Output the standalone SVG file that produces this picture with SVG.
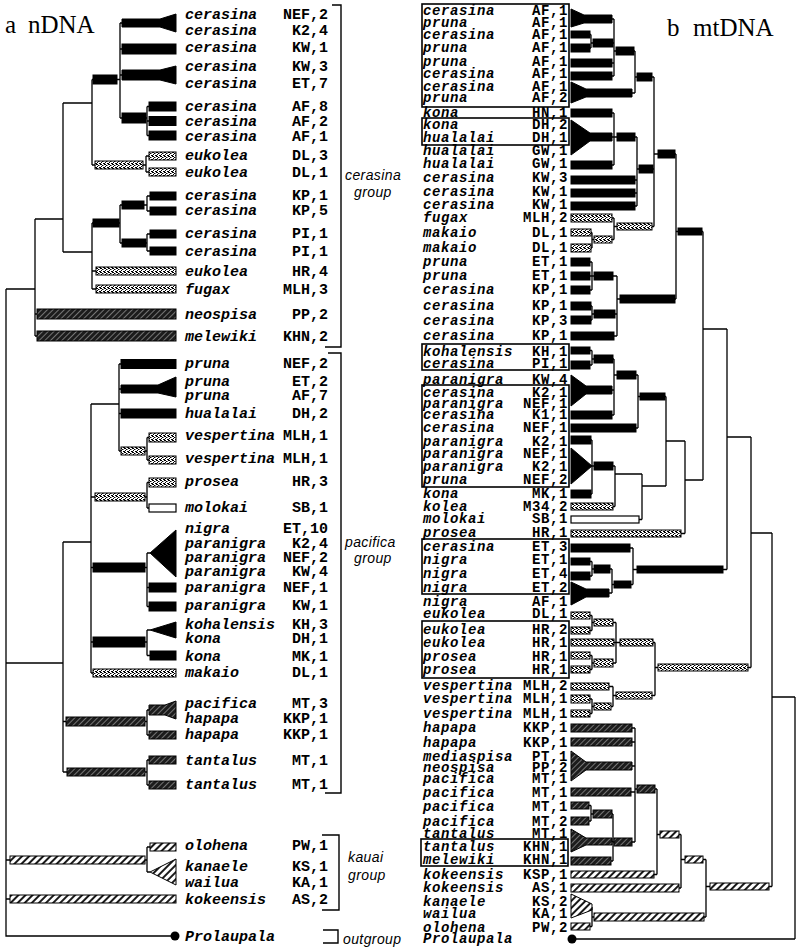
<svg xmlns="http://www.w3.org/2000/svg" width="800" height="949" viewBox="0 0 800 949">
<defs>
<pattern id="stip" width="4" height="4" patternUnits="userSpaceOnUse"><rect width="4" height="4" fill="#fff"/><path d="M0,0.5h2M2,1.5h1.5M1,2.5h1M3,3.5h1M0,3.5h1" stroke="#000" stroke-width="1"/></pattern>
<pattern id="dh" width="4" height="4" patternUnits="userSpaceOnUse" patternTransform="rotate(45)"><rect width="4" height="4" fill="#1c1c1c"/><line x1="0.5" y1="0" x2="0.5" y2="4" stroke="#8a8a8a" stroke-width="0.8"/></pattern>
<pattern id="wh" width="5" height="5" patternUnits="userSpaceOnUse" patternTransform="rotate(45)"><rect width="5" height="5" fill="#fff"/><line x1="1" y1="0" x2="1" y2="5" stroke="#000" stroke-width="1.8"/></pattern>
</defs>
<style>
.sp{font-family:"Liberation Mono","Courier New",monospace;font-weight:bold;font-style:italic;font-size:15px;fill:#000}
.cd{font-family:"Liberation Mono","Courier New",monospace;font-weight:bold;font-size:15px;text-anchor:end;fill:#000}
.b .sp,.b .cd{font-size:14px;letter-spacing:0.6px}
.gl{font-family:"Liberation Sans",Arial,sans-serif;font-style:italic;font-size:14px;fill:#000;letter-spacing:0.4px}
.tt{font-family:"Liberation Serif","Times New Roman",serif;font-size:25px;fill:#000}
.k{fill:#000;stroke:#000;stroke-width:1}
.s{fill:url(#stip);stroke:#000;stroke-width:1}
.d{fill:url(#dh);stroke:#000;stroke-width:1}
.w{fill:url(#wh);stroke:#000;stroke-width:1}
.o{fill:#fff;stroke:#000;stroke-width:1.2}
.ln{stroke:#000;stroke-width:1.3;fill:none}
.bx{fill:none;stroke:#000;stroke-width:1.6}
.br{fill:none;stroke:#000;stroke-width:1.4}
</style>
<rect width="800" height="949" fill="#fff"/>

<!-- titles -->
<text class="tt" x="5" y="33">a</text><text class="tt" x="28" y="33">nDNA</text>
<text class="tt" x="667" y="36">b</text><text class="tt" x="693" y="36">mtDNA</text>

<!-- connectors -->
<g id="connectors" class="ln">
<!-- left panel -->
<path d="M6,289V936H175M6,289H35M6,663H63M6,860H10M6,899H10"/>
<path d="M35,219V336M35,219H63M35,314H37M35,336H37"/>
<path d="M63,103V252M63,103H92M63,252H92"/>
<path d="M92,79.5V165M92,79.5H93M92,165H95"/>
<path d="M117,79.5H120M120,23V118M120,23H122M120,49H122M120,75H122M120,118H122"/>
<path d="M146,118H147M147,106.5V135.5M147,106.5H149M147,121H149M147,135.5H149"/>
<path d="M143,165H146M146,156V172M146,156H149M146,172H149"/>
<path d="M92,223V289M92,223H93M92,271H96M92,289H96"/>
<path d="M119,223H120M120,205V243M120,205H122M120,243H122"/>
<path d="M144,205H147M147,196V211M147,196H150M147,211H150"/>
<path d="M146,243H147M147,234V251M147,234H150M147,251H150"/>
<path d="M63,542V772M63,542H91M63,721.5H66M63,772H67"/>
<path d="M91,404V673M91,404H119M91,497H95M91,567.5H93M91,642H93M91,673H93"/>
<path d="M119,364V451M119,364H121M119,389H121M119,413.5H121M119,451H121"/>
<path d="M145,451H147M147,437.5V460M147,437.5H149M147,460H149"/>
<path d="M145,497H147M147,482.5V508M147,482.5H149M147,508H149"/>
<path d="M145,567.5H147M147,553V606.5M147,587.5H149M147,606.5H149M147,553H150"/>
<path d="M145,642H147M147,630V655.5M147,655.5H150M147,630H150"/>
<path d="M145,721.5H147M147,710V735M147,710H149M147,735H149"/>
<path d="M145,772H147M147,760V785M147,760H149M147,785H149"/>
<path d="M145,860H147M147,847V872M147,847H150M147,872H150"/>
<!-- right panel -->
<path d="M591,34.5V48M571,34.5H591M571,48H591M591,43H614"/>
<path d="M614,19V76M571,19H614M571,63H614M571,76H614M614,51H635"/>
<path d="M635,51V93M571,93H635M635,77H654"/>
<path d="M614,113V165M571,113H614M571,137H614M571,165H614M614,137H637"/>
<path d="M637,137V206M571,180H637M571,193H637M571,206H637M637,169H654"/>
<path d="M592,232.5V248M571,232.5H592M571,248H592M592,239.5H614"/>
<path d="M614,218V239.5M571,218H614M614,226.5H654"/>
<path d="M654,77V226.5M654,154H676"/>
<path d="M592,262V290M571,262H592M571,276H592M571,290H592M592,276H617"/>
<path d="M592,306V320M571,306H592M571,320H592M592,314H617"/>
<path d="M617,276V336M571,336H617M617,299H676"/>
<path d="M676,154V299M676,231.5H703"/>
<path d="M592,350.5V365M571,350.5H592M571,365H592M592,359H614"/>
<path d="M614,359V415M571,390H614M571,415H614M614,375H638"/>
<path d="M638,375V428M571,428H638M638,396.5H666"/>
<path d="M592,440V494M571,440H592M571,494H592M592,466H615"/>
<path d="M615,466V506.5M571,506.5H615M615,474H642"/>
<path d="M642,474V519.5M571,519.5H642M642,486H666"/>
<path d="M666,396.5V486M666,441H685"/>
<path d="M685,441V533.5M571,533.5H685M685,480H703"/>
<path d="M703,231.5V480M703,329H727"/>
<path d="M592,561.5V576M571,561.5H592M571,576H592M592,569H612"/>
<path d="M612,569V593M571,593H612M612,584.5H633"/>
<path d="M633,548V584.5M571,548H633M633,569.5H727"/>
<path d="M727,329V569.5M727,437H751"/>
<path d="M592,615.5V630.5M571,615.5H592M571,630.5H592M592,622.5H616"/>
<path d="M592,655.5V669.5M571,655.5H592M571,669.5H592M592,663H616"/>
<path d="M616,622.5V663M571,642.5H616M616,642.5H655"/>
<path d="M592,699V713.5M571,699H592M571,713.5H592M592,706.5H613"/>
<path d="M613,686.5V706.5M571,686.5H613M613,695.5H655"/>
<path d="M655,642.5V695.5M655,667.5H751"/>
<path d="M751,437V667.5M751,533H772"/>
<path d="M591,805.5V821M571,805.5H591M571,821H591M591,814H613"/>
<path d="M613,814V861M571,841.5H613M571,861H613M613,842H635"/>
<path d="M635,728V842M571,728H635M571,742H635M571,766H635M571,792H635M635,789H657"/>
<path d="M657,789V874.5M571,874.5H657M657,834.5H681"/>
<path d="M681,834.5V888M571,888H681M681,859.5H706"/>
<path d="M592,907V926.5M571,926.5H592M592,917H706"/>
<path d="M706,859.5V917M706,886.5H772"/>
<path d="M772,533V886.5M772,697H795"/>
<path d="M795,697V939M572,939H795"/>
</g>

<!-- LEFT PANEL: nDNA -->
<g id="a-cer-nef2-k24"><polygon class="k" points="122,19 160,19 176,14 176,32 160,27 122,27"/><text class="sp" x="185" y="19">cerasina</text><text class="cd" x="328" y="19">NEF,2</text><text class="sp" x="185" y="35">cerasina</text><text class="cd" x="328" y="35">K2,4</text></g>
<g id="a-cer-kw1"><rect class="k" x="122" y="44" width="54" height="10"/><text class="sp" x="185" y="52">cerasina</text><text class="cd" x="328" y="52">KW,1</text></g>
<g id="a-cer-kw3-et7"><polygon class="k" points="122,70 160,70 176,66 176,84 160,80 122,80"/><text class="sp" x="185" y="71">cerasina</text><text class="cd" x="328" y="71">KW,3</text><text class="sp" x="185" y="88">cerasina</text><text class="cd" x="328" y="88">ET,7</text></g>
<g id="a-cer-af8"><rect class="k" x="149" y="102" width="27" height="9"/><text class="sp" x="185" y="111">cerasina</text><text class="cd" x="328" y="111">AF,8</text></g>
<g id="a-cer-af2"><rect class="k" x="149" y="116.5" width="27" height="9"/><text class="sp" x="185" y="126">cerasina</text><text class="cd" x="328" y="126">AF,2</text></g>
<g id="a-cer-af1"><rect class="k" x="149" y="131" width="27" height="9"/><text class="sp" x="185" y="141">cerasina</text><text class="cd" x="328" y="141">AF,1</text></g>
<g id="a-euk-dl3"><rect class="s" x="149" y="152" width="27" height="8"/><text class="sp" x="185" y="160">eukolea</text><text class="cd" x="328" y="160">DL,3</text></g>
<g id="a-euk-dl1"><rect class="s" x="149" y="168" width="27" height="8"/><text class="sp" x="185" y="177">eukolea</text><text class="cd" x="328" y="177">DL,1</text></g>
<g id="a-cer-kp1"><rect class="k" x="150" y="192" width="26" height="8"/><text class="sp" x="185" y="200">cerasina</text><text class="cd" x="328" y="200">KP,1</text></g>
<g id="a-cer-kp5"><rect class="k" x="150" y="207" width="26" height="8"/><text class="sp" x="185" y="215">cerasina</text><text class="cd" x="328" y="215">KP,5</text></g>
<g id="a-cer-pi1a"><rect class="k" x="150" y="230" width="26" height="8"/><text class="sp" x="185" y="238">cerasina</text><text class="cd" x="328" y="238">PI,1</text></g>
<g id="a-cer-pi1b"><rect class="k" x="150" y="247" width="26" height="8"/><text class="sp" x="185" y="256">cerasina</text><text class="cd" x="328" y="256">PI,1</text></g>
<g id="a-euk-hr4"><rect class="s" x="96" y="267" width="80" height="8"/><text class="sp" x="185" y="276">eukolea</text><text class="cd" x="328" y="276">HR,4</text></g>
<g id="a-fug-mlh3"><rect class="s" x="96" y="285" width="80" height="8"/><text class="sp" x="185" y="294">fugax</text><text class="cd" x="328" y="294">MLH,3</text></g>
<g id="a-neo-pp2"><rect class="d" x="37" y="309" width="139" height="10"/><text class="sp" x="185" y="319">neospisa</text><text class="cd" x="328" y="319">PP,2</text></g>
<g id="a-mel-khn2"><rect class="d" x="37" y="331" width="139" height="10"/><text class="sp" x="185" y="341">melewiki</text><text class="cd" x="328" y="341">KHN,2</text></g>
<g id="a-pru-nef2"><rect class="k" x="121" y="359.5" width="55" height="9"/><text class="sp" x="185" y="368">pruna</text><text class="cd" x="328" y="368">NEF,2</text></g>
<g id="a-pru-et2-af7"><polygon class="k" points="121,385 158,385 176,377 176,397 158,393 121,393"/><text class="sp" x="185" y="386">pruna</text><text class="cd" x="328" y="386">ET,2</text><text class="sp" x="185" y="400">pruna</text><text class="cd" x="328" y="400">AF,7</text></g>
<g id="a-hua-dh2"><rect class="k" x="121" y="409" width="55" height="9"/><text class="sp" x="185" y="418">hualalai</text><text class="cd" x="328" y="418">DH,2</text></g>
<g id="a-ves-1"><rect class="s" x="149" y="433" width="27" height="9"/><text class="sp" x="185" y="440">vespertina</text><text class="cd" x="328" y="440">MLH,1</text></g>
<g id="a-ves-2"><rect class="s" x="149" y="456" width="27" height="8"/><text class="sp" x="185" y="463">vespertina</text><text class="cd" x="328" y="463">MLH,1</text></g>
<g id="a-pro-hr3"><rect class="s" x="149" y="478" width="27" height="9"/><text class="sp" x="185" y="486">prosea</text><text class="cd" x="328" y="486">HR,3</text></g>
<g id="a-mol-sb1"><rect class="o" x="149" y="504" width="27" height="8"/><text class="sp" x="185" y="512">molokai</text><text class="cd" x="328" y="512">SB,1</text></g>
<g id="a-nig-par"><polygon class="k" points="150,553 176,530 176,577"/><text class="sp" x="185" y="533">nigra</text><text class="cd" x="328" y="533">ET,10</text><text class="sp" x="185" y="548">paranigra</text><text class="cd" x="328" y="548">K2,4</text><text class="sp" x="185" y="562">paranigra</text><text class="cd" x="328" y="562">NEF,2</text><text class="sp" x="185" y="576">paranigra</text><text class="cd" x="328" y="576">KW,4</text></g>
<g id="a-par-nef1"><rect class="k" x="149" y="583" width="27" height="9"/><text class="sp" x="185" y="592">paranigra</text><text class="cd" x="328" y="592">NEF,1</text></g>
<g id="a-par-kw1"><rect class="k" x="149" y="602" width="27" height="9"/><text class="sp" x="185" y="610">paranigra</text><text class="cd" x="328" y="610">KW,1</text></g>
<g id="a-koh-kona"><polygon class="k" points="150,630 176,622 176,638"/><text class="sp" x="185" y="629">kohalensis</text><text class="cd" x="328" y="629">KH,3</text><text class="sp" x="185" y="643">kona</text><text class="cd" x="328" y="643">DH,1</text></g>
<g id="a-kona-mk1"><rect class="k" x="150" y="651" width="26" height="9"/><text class="sp" x="185" y="661">kona</text><text class="cd" x="328" y="661">MK,1</text></g>
<g id="a-mak-dl1"><rect class="s" x="93" y="669" width="83" height="8"/><text class="sp" x="185" y="677">makaio</text><text class="cd" x="328" y="677">DL,1</text></g>
<g id="a-pac-hap"><polygon class="d" points="149,705 165,705 176,701 176,719 165,715 149,715"/><text class="sp" x="185" y="708">pacifica</text><text class="cd" x="328" y="708">MT,3</text><text class="sp" x="185" y="723">hapapa</text><text class="cd" x="328" y="723">KKP,1</text></g>
<g id="a-hap-kkp1"><rect class="d" x="149" y="731" width="27" height="8"/><text class="sp" x="185" y="739">hapapa</text><text class="cd" x="328" y="739">KKP,1</text></g>
<g id="a-tan-1"><rect class="d" x="149" y="756" width="27" height="8"/><text class="sp" x="185" y="765">tantalus</text><text class="cd" x="328" y="765">MT,1</text></g>
<g id="a-tan-2"><rect class="d" x="149" y="781" width="27" height="8"/><text class="sp" x="185" y="789">tantalus</text><text class="cd" x="328" y="789">MT,1</text></g>
<g id="a-olo-pw1"><rect class="w" x="150" y="843" width="26" height="8"/><text class="sp" x="185" y="850">olohena</text><text class="cd" x="328" y="850">PW,1</text></g>
<g id="a-kan-wai"><polygon class="w" points="150,872 176,859 176,885"/><text class="sp" x="185" y="871">kanaele</text><text class="cd" x="328" y="871">KS,1</text><text class="sp" x="185" y="887">wailua</text><text class="cd" x="328" y="887">KA,1</text></g>
<g id="a-kok-as2"><rect class="w" x="10" y="895" width="166" height="8"/><text class="sp" x="185" y="904">kokeensis</text><text class="cd" x="328" y="904">AS,2</text></g>
<g id="a-prolaupala"><circle cx="175" cy="936" r="4.5" fill="#000"/><text class="sp" x="185" y="941">Prolaupala</text></g>
<!-- left internal nodes -->
<g id="a-node-A"><rect class="k" x="93" y="75" width="24" height="9"/></g>
<g id="a-node-AF"><rect class="k" x="122" y="113" width="24" height="10"/></g>
<g id="a-node-euk"><rect class="s" x="95" y="161" width="48" height="8"/></g>
<g id="a-node-KP"><rect class="k" x="122" y="201" width="22" height="8"/></g>
<g id="a-node-PI"><rect class="k" x="122" y="239" width="24" height="8"/></g>
<g id="a-node-KPPI"><rect class="k" x="93" y="219" width="26" height="8"/></g>
<g id="a-node-ves"><rect class="s" x="121" y="447" width="24" height="8"/></g>
<g id="a-node-pro"><rect class="s" x="95" y="493" width="50" height="8"/></g>
<g id="a-node-nig"><rect class="k" x="93" y="563" width="52" height="9"/></g>
<g id="a-node-koh"><rect class="k" x="93" y="637" width="52" height="10"/></g>
<g id="a-node-hap"><rect class="d" x="66" y="717" width="79" height="9"/></g>
<g id="a-node-tan"><rect class="d" x="67" y="768" width="78" height="8"/></g>
<g id="a-node-kau"><rect class="w" x="10" y="856" width="135" height="8"/></g>
<!-- brackets and group labels -->
<g id="a-grp-cerasina"><polyline class="br" points="332,5 341,5 341,347 325,347"/><text class="gl" x="345" y="180">cerasina</text><text class="gl" x="354" y="197">group</text></g>
<g id="a-grp-pacifica"><polyline class="br" points="328,353 341,353 341,793 325,793"/><text class="gl" x="345" y="547">pacifica</text><text class="gl" x="354" y="563">group</text></g>
<g id="a-grp-kauai"><polyline class="br" points="322,835 339,835 339,910 322,910"/><text class="gl" x="348" y="862">kauai</text><text class="gl" x="348" y="880">group</text></g>
<g id="a-grp-outgroup"><polyline class="br" points="323,930 338,930 338,943 323,943"/><text class="gl" x="343" y="944">outgroup</text></g>

<!-- RIGHT PANEL: mtDNA -->
<g class="b">
<g id="b-boxes">
<rect class="bx" x="422" y="4" width="147" height="103"/>
<rect class="bx" x="422" y="118" width="147" height="27"/>
<rect class="bx" x="422" y="344" width="147" height="26"/>
<rect class="bx" x="422" y="385" width="147" height="102"/>
<rect class="bx" x="422" y="539" width="147" height="55"/>
<rect class="bx" x="422" y="621" width="147" height="57"/>
<rect class="bx" x="421" y="839" width="147" height="27"/>
</g>
<g id="b-r01-02"><polygon class="k" points="571,9 584,15 612,15 612,23 584,23 571,27"/><text class="sp" x="423" y="14.5">cerasina</text><text class="cd" x="568" y="14.5">AF,1</text><text class="sp" x="423" y="26.5">pruna</text><text class="cd" x="568" y="26.5">AF,1</text></g>
<g id="b-r03"><rect class="k" x="571" y="31" width="19" height="7"/><text class="sp" x="423" y="38.5">cerasina</text><text class="cd" x="568" y="38.5">AF,1</text></g>
<g id="b-r04"><rect class="k" x="571" y="44" width="19" height="8"/><text class="sp" x="423" y="51.5">pruna</text><text class="cd" x="568" y="51.5">AF,1</text></g>
<g id="b-r05"><rect class="k" x="571" y="59" width="41" height="8"/><text class="sp" x="423" y="65.5">pruna</text><text class="cd" x="568" y="65.5">AF,1</text></g>
<g id="b-r06"><rect class="k" x="571" y="72" width="41" height="8"/><text class="sp" x="423" y="77.5">cerasina</text><text class="cd" x="568" y="77.5">AF,1</text></g>
<g id="b-r07-08"><polygon class="k" points="571,82 586,89 632,89 632,97 586,97 571,103"/><text class="sp" x="423" y="90.5">cerasina</text><text class="cd" x="568" y="90.5">AF,1</text><text class="sp" x="423" y="101.5">pruna</text><text class="cd" x="568" y="101.5">AF,2</text></g>
<g id="b-r09"><rect class="k" x="571" y="109" width="41" height="8"/><text class="sp" x="423" y="116.5">kona</text><text class="cd" x="568" y="116.5">HN,1</text></g>
<g id="b-r10-12"><polygon class="k" points="571,120 590,133 612,133 612,141 590,141 571,155"/><text class="sp" x="423" y="128.5">kona</text><text class="cd" x="568" y="128.5">DH,2</text><text class="sp" x="423" y="141.5">hualalai</text><text class="cd" x="568" y="141.5">DH,1</text><text class="sp" x="423" y="154.5">hualalai</text><text class="cd" x="568" y="154.5">GW,1</text></g>
<g id="b-r13"><rect class="k" x="571" y="161" width="41" height="8"/><text class="sp" x="423" y="167.5">hualalai</text><text class="cd" x="568" y="167.5">GW,1</text></g>
<g id="b-r14"><rect class="k" x="571" y="176" width="64" height="8"/><text class="sp" x="423" y="181.5">cerasina</text><text class="cd" x="568" y="181.5">KW,3</text></g>
<g id="b-r15"><rect class="k" x="571" y="189" width="64" height="8"/><text class="sp" x="423" y="195.5">cerasina</text><text class="cd" x="568" y="195.5">KW,1</text></g>
<g id="b-r16"><rect class="k" x="571" y="202" width="64" height="8"/><text class="sp" x="423" y="208.5">cerasina</text><text class="cd" x="568" y="208.5">KW,1</text></g>
<g id="b-r17"><rect class="s" x="571" y="214" width="41" height="8"/><text class="sp" x="423" y="221.5">fugax</text><text class="cd" x="568" y="221.5">MLH,2</text></g>
<g id="b-r18"><rect class="s" x="571" y="229" width="20" height="7"/><text class="sp" x="423" y="236.5">makaio</text><text class="cd" x="568" y="236.5">DL,1</text></g>
<g id="b-r19"><rect class="s" x="571" y="244" width="20" height="8"/><text class="sp" x="423" y="251.5">makaio</text><text class="cd" x="568" y="251.5">DL,1</text></g>
<g id="b-r20"><rect class="k" x="571" y="258" width="19" height="8"/><text class="sp" x="423" y="265.5">pruna</text><text class="cd" x="568" y="265.5">ET,1</text></g>
<g id="b-r21"><rect class="k" x="571" y="272" width="19" height="8"/><text class="sp" x="423" y="279.5">pruna</text><text class="cd" x="568" y="279.5">ET,1</text></g>
<g id="b-r22"><rect class="k" x="571" y="286" width="19" height="8"/><text class="sp" x="423" y="293.5">cerasina</text><text class="cd" x="568" y="293.5">KP,1</text></g>
<g id="b-r23"><rect class="k" x="571" y="302" width="20" height="8"/><text class="sp" x="423" y="309.5">cerasina</text><text class="cd" x="568" y="309.5">KP,1</text></g>
<g id="b-r24"><rect class="k" x="571" y="316" width="20" height="8"/><text class="sp" x="423" y="324.5">cerasina</text><text class="cd" x="568" y="324.5">KP,3</text></g>
<g id="b-r25"><rect class="k" x="571" y="332" width="43" height="8"/><text class="sp" x="423" y="339.5">cerasina</text><text class="cd" x="568" y="339.5">KP,1</text></g>
<g id="b-r26"><rect class="k" x="571" y="347" width="19" height="7"/><text class="sp" x="423" y="355.5">kohalensis</text><text class="cd" x="568" y="355.5">KH,1</text></g>
<g id="b-r27"><rect class="k" x="571" y="361" width="19" height="8"/><text class="sp" x="423" y="367.5">cerasina</text><text class="cd" x="568" y="367.5">PI,1</text></g>
<g id="b-r28-30"><polygon class="k" points="571,375 586,386 612,386 612,394 586,394 571,406"/><text class="sp" x="423" y="383.5">paranigra</text><text class="cd" x="568" y="383.5">KW,4</text><text class="sp" x="423" y="396.5">cerasina</text><text class="cd" x="568" y="396.5">K2,1</text><text class="sp" x="423" y="407.5">paranigra</text><text class="cd" x="568" y="407.5">NEF,1</text></g>
<g id="b-r31"><rect class="k" x="571" y="411" width="41" height="8"/><text class="sp" x="423" y="418.5">cerasina</text><text class="cd" x="568" y="418.5">K1,1</text></g>
<g id="b-r32"><rect class="k" x="571" y="424" width="65" height="8"/><text class="sp" x="423" y="431.5">cerasina</text><text class="cd" x="568" y="431.5">NEF,1</text></g>
<g id="b-r33"><rect class="k" x="571" y="436" width="20" height="8"/><text class="sp" x="423" y="445.5">paranigra</text><text class="cd" x="568" y="445.5">K2,1</text></g>
<g id="b-r34-36"><polygon class="k" points="571,448 592,466 571,484"/><text class="sp" x="423" y="457.5">paranigra</text><text class="cd" x="568" y="457.5">NEF,1</text><text class="sp" x="423" y="470.5">paranigra</text><text class="cd" x="568" y="470.5">K2,1</text><text class="sp" x="423" y="483.5">pruna</text><text class="cd" x="568" y="483.5">NEF,2</text></g>
<g id="b-r37"><rect class="k" x="571" y="490" width="20" height="8"/><text class="sp" x="423" y="497.5">kona</text><text class="cd" x="568" y="497.5">MK,1</text></g>
<g id="b-r38"><rect class="s" x="571" y="503" width="42" height="7"/><text class="sp" x="423" y="510.5">kolea</text><text class="cd" x="568" y="510.5">M34,2</text></g>
<g id="b-r39"><rect class="o" x="571" y="516" width="68" height="7"/><text class="sp" x="423" y="522.5">molokai</text><text class="cd" x="568" y="522.5">SB,1</text></g>
<g id="b-r40"><rect class="s" x="571" y="530" width="110" height="7"/><text class="sp" x="423" y="536.5">prosea</text><text class="cd" x="568" y="536.5">HR,1</text></g>
<g id="b-r41"><rect class="k" x="571" y="544" width="59" height="8"/><text class="sp" x="423" y="550.5">cerasina</text><text class="cd" x="568" y="550.5">ET,3</text></g>
<g id="b-r42"><rect class="k" x="571" y="558" width="19" height="7"/><text class="sp" x="423" y="563.5">nigra</text><text class="cd" x="568" y="563.5">ET,1</text></g>
<g id="b-r43"><rect class="k" x="571" y="572" width="19" height="8"/><text class="sp" x="423" y="577.5">nigra</text><text class="cd" x="568" y="577.5">ET,4</text></g>
<g id="b-r44-45"><polygon class="k" points="571,582 586,589 609,589 609,597 586,597 571,605"/><text class="sp" x="423" y="591.5">nigra</text><text class="cd" x="568" y="591.5">ET,2</text><text class="sp" x="423" y="605.5">nigra</text><text class="cd" x="568" y="605.5">AF,1</text></g>
<g id="b-r46"><rect class="s" x="571" y="612" width="19" height="7"/><text class="sp" x="423" y="617.5">eukolea</text><text class="cd" x="568" y="617.5">DL,1</text></g>
<g id="b-r47"><rect class="s" x="571" y="627" width="19" height="7"/><text class="sp" x="423" y="633.5">eukolea</text><text class="cd" x="568" y="633.5">HR,2</text></g>
<g id="b-r48"><rect class="s" x="571" y="639" width="43" height="7"/><text class="sp" x="423" y="646.5">eukolea</text><text class="cd" x="568" y="646.5">HR,1</text></g>
<g id="b-r49"><rect class="s" x="571" y="652" width="19" height="7"/><text class="sp" x="423" y="660.5">prosea</text><text class="cd" x="568" y="660.5">HR,1</text></g>
<g id="b-r50"><rect class="s" x="571" y="666" width="19" height="7"/><text class="sp" x="423" y="673.5">prosea</text><text class="cd" x="568" y="673.5">HR,1</text></g>
<g id="b-r51"><rect class="s" x="571" y="683" width="38" height="7"/><text class="sp" x="423" y="689.5">vespertina</text><text class="cd" x="568" y="689.5">MLH,2</text></g>
<g id="b-r52"><rect class="s" x="571" y="695" width="19" height="8"/><text class="sp" x="423" y="702.5">vespertina</text><text class="cd" x="568" y="702.5">MLH,1</text></g>
<g id="b-r53"><rect class="s" x="571" y="710" width="19" height="7"/><text class="sp" x="423" y="717.5">vespertina</text><text class="cd" x="568" y="717.5">MLH,1</text></g>
<g id="b-r54"><rect class="d" x="571" y="724" width="61" height="8"/><text class="sp" x="423" y="731.5">hapapa</text><text class="cd" x="568" y="731.5">KKP,1</text></g>
<g id="b-r55"><rect class="d" x="571" y="738" width="61" height="8"/><text class="sp" x="423" y="746.5">hapapa</text><text class="cd" x="568" y="746.5">KKP,1</text></g>
<g id="b-r56-58"><polygon class="d" points="571,751 586,762 632,762 632,770 586,770 571,781"/><text class="sp" x="423" y="760.5">mediaspisa</text><text class="cd" x="568" y="760.5">PT,1</text><text class="sp" x="423" y="771.5">neospisa</text><text class="cd" x="568" y="771.5">PP,2</text><text class="sp" x="423" y="782.5">pacifica</text><text class="cd" x="568" y="782.5">MT,1</text></g>
<g id="b-r59"><rect class="d" x="571" y="788" width="60" height="8"/><text class="sp" x="423" y="796.5">pacifica</text><text class="cd" x="568" y="796.5">MT,1</text></g>
<g id="b-r60"><rect class="d" x="571" y="802" width="18" height="7"/><text class="sp" x="423" y="810.5">pacifica</text><text class="cd" x="568" y="810.5">MT,1</text></g>
<g id="b-r61"><rect class="d" x="571" y="817" width="18" height="8"/><text class="sp" x="423" y="825.5">pacifica</text><text class="cd" x="568" y="825.5">MT,2</text></g>
<g id="b-r62-63"><polygon class="d" points="571,829 586,838 612,838 612,845 586,845 571,852"/><text class="sp" x="423" y="837.5">tantalus</text><text class="cd" x="568" y="837.5">MT,1</text><text class="sp" x="423" y="850.5">tantalus</text><text class="cd" x="568" y="850.5">KHN,1</text></g>
<g id="b-r64"><rect class="d" x="571" y="857" width="40" height="8"/><text class="sp" x="423" y="863.5">melewiki</text><text class="cd" x="568" y="863.5">KHN,1</text></g>
<g id="b-r65"><rect class="w" x="571" y="871" width="83" height="7"/><text class="sp" x="423" y="878.5">kokeensis</text><text class="cd" x="568" y="878.5">KSP,1</text></g>
<g id="b-r66"><rect class="w" x="571" y="884" width="108" height="8"/><text class="sp" x="423" y="891.5">kokeensis</text><text class="cd" x="568" y="891.5">AS,1</text></g>
<g id="b-r67-68"><polygon class="w" points="571,894 592,904 592,910 571,918"/><text class="sp" x="423" y="905.5">kanaele</text><text class="cd" x="568" y="905.5">KS,2</text><text class="sp" x="423" y="917.5">wailua</text><text class="cd" x="568" y="917.5">KA,1</text></g>
<g id="b-r69"><rect class="w" x="571" y="923" width="19" height="7"/><text class="sp" x="423" y="931.5">olohena</text><text class="cd" x="568" y="931.5">PW,2</text></g>
<g id="b-prolaupala"><circle cx="572" cy="939" r="4.5" fill="#000"/><text class="sp" x="423" y="942.5">Prolaupala</text></g>
<!-- right internal nodes -->
<g id="b-n34"><rect class="k" x="593" y="39" width="20" height="8"/></g>
<g id="b-n16"><rect class="k" x="616" y="47" width="18" height="8"/></g>
<g id="b-nAF"><rect class="k" x="637" y="73" width="15" height="8"/></g>
<g id="b-nKona"><rect class="k" x="617" y="133" width="18" height="8"/></g>
<g id="b-nKW"><rect class="k" x="639" y="165" width="14" height="8"/></g>
<g id="b-nMak"><rect class="s" x="594" y="236" width="18" height="7"/></g>
<g id="b-nFug"><rect class="s" x="617" y="223" width="35" height="7"/></g>
<g id="b-nN1"><rect class="k" x="658" y="150" width="17" height="8"/></g>
<g id="b-nET"><rect class="k" x="594" y="272" width="19" height="8"/></g>
<g id="b-nKP2"><rect class="k" x="594" y="310" width="21" height="8"/></g>
<g id="b-nKP"><rect class="k" x="620" y="295" width="55" height="8"/></g>
<g id="b-nN3"><rect class="k" x="678" y="228" width="24" height="7"/></g>
<g id="b-nKoh"><rect class="k" x="594" y="355" width="19" height="8"/></g>
<g id="b-nK2"><rect class="k" x="617" y="371" width="19" height="8"/></g>
<g id="b-nNEF"><rect class="k" x="640" y="393" width="25" height="7"/></g>
<g id="b-nP"><rect class="k" x="594" y="462" width="19" height="8"/></g>
<g id="b-nNig"><rect class="k" x="594" y="565" width="16" height="8"/></g>
<g id="b-nNig2"><rect class="k" x="614" y="581" width="17" height="7"/></g>
<g id="b-nCer"><rect class="k" x="637" y="566" width="86" height="7"/></g>
<g id="b-nEuk"><rect class="s" x="594" y="619" width="19" height="7"/></g>
<g id="b-nPro"><rect class="s" x="594" y="659" width="19" height="8"/></g>
<g id="b-nEuk2"><rect class="s" x="620" y="639" width="33" height="7"/></g>
<g id="b-nVes"><rect class="s" x="594" y="703" width="17" height="7"/></g>
<g id="b-nVes2"><rect class="s" x="616" y="692" width="36" height="7"/></g>
<g id="b-nEV"><rect class="s" x="658" y="664" width="90" height="7"/></g>
<g id="b-nPac"><rect class="d" x="593" y="810" width="19" height="8"/></g>
<g id="b-nTan"><rect class="d" x="614" y="838" width="18" height="8"/></g>
<g id="b-nHat"><rect class="d" x="637" y="785" width="18" height="8"/></g>
<g id="b-nKok1"><rect class="w" x="660" y="831" width="19" height="7"/></g>
<g id="b-nKok2"><rect class="w" x="685" y="856" width="18" height="7"/></g>
<g id="b-nOlo"><rect class="w" x="594" y="913" width="110" height="8"/></g>
<g id="b-nKau"><rect class="w" x="710" y="883" width="59" height="7"/></g>
</g>
</svg>
